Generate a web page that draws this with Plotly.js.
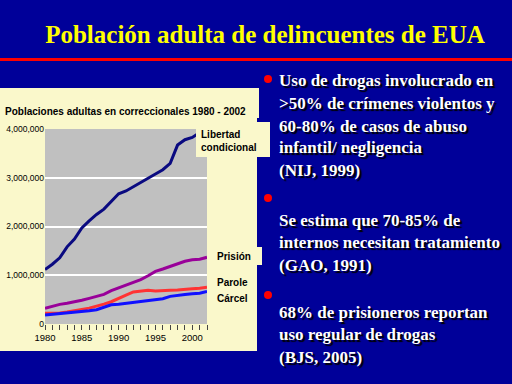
<!DOCTYPE html>
<html><head><meta charset="utf-8">
<script src="https://cdn.plot.ly/plotly-3.0.1.min.js"></script>
<style>html,body{margin:0;padding:0;background:#000099;}</style>
</head><body>
<div id="chart" style="width:512px;height:384px;"></div>
<script>
const years = [1980,1981,1982,1983,1984,1985,1986,1987,1988,1989,1990,1991,1992,1993,1994,1995,1996,1997,1998,1999,2000,2001,2002];
const libertadCondicional = [1118097,1225934,1357264,1582947,1740948,1968712,2114621,2247158,2356483,2522125,2670234,2728472,2811611,2903061,2981022,3077861,3164996,3296513,3670441,3779922,3826209,3931731,4024067];
const prision = [319598,360029,402914,423898,448264,487593,526436,562814,607766,683367,743382,792535,850566,909381,990147,1078542,1127528,1176564,1224469,1287172,1316333,1330007,1367547];
const parole = [220438,225539,224604,246440,266992,300203,325638,362192,407977,456803,531407,590442,658601,676100,690371,679421,679733,694787,696385,714457,723898,732333,753141];
const carcel = [182288,195085,207853,221815,233018,254986,272736,294092,341893,393303,403019,424129,441781,455500,479800,507044,518492,567079,592462,605943,621149,631240,665475];
const seriesNames = ['Libertad condicional','Prisión','Parole','Cárcel'];
const yTicks = [0,1000000,2000000,3000000,4000000];
const xTickLabels = years.map(y => (y % 5 === 0 ? String(y) : ''));

const L = 45, R = 207, T = 129, B = 324;
const px = x => (x - L) / (R - L);
const py = y => (B - y) / (B - T);

const cream = '#faf8cb';
const sans = 'Liberation Sans, Arial, sans-serif';
const serif = 'Liberation Serif, Times New Roman, serif';

const traces = [
  {x: years, y: libertadCondicional, name: seriesNames[0], line: {color: '#0a0a80', width: 3}},
  {x: years, y: prision, name: seriesNames[1], line: {color: '#990099', width: 3}},
  {x: years, y: parole, name: seriesNames[2], line: {color: '#ff3333', width: 3}},
  {x: years, y: carcel, name: seriesNames[3], line: {color: '#1010ff', width: 3}}
].map(t => Object.assign({type: 'scatter', mode: 'lines', hoverinfo: 'skip'}, t));

function rect(x0, y0, x1, y1, color, layer) {
  return {type: 'rect', xref: 'paper', yref: 'paper', x0: px(x0), x1: px(x1), y0: py(y1), y1: py(y0),
          fillcolor: color, line: {width: 0}, layer: layer || 'below'};
}
function dot(cx, cy) {
  return {type: 'circle', xref: 'paper', yref: 'paper', x0: px(cx - 4), x1: px(cx + 4), y0: py(cy + 4), y1: py(cy - 4),
          fillcolor: '#ff0000', line: {width: 0}, layer: 'above'};
}

const shapes = [
  rect(0, 88, 257, 351, cream),
  rect(0, 88, 259, 118, cream),
  rect(230, 247, 262, 265, cream),
  rect(L, T, R, B, '#c0c0c0'),
  rect(196, 122, 270, 157, cream, 'above'),
  {type: 'line', xref: 'paper', yref: 'paper', x0: px(0), x1: px(512), y0: py(59.5), y1: py(59.5),
   line: {color: '#ff0000', width: 3}, layer: 'above'},
  dot(268, 79), dot(268, 198), dot(268, 295)
];

function label(text, x, y, size, opts) {
  return Object.assign({text: text, xref: 'paper', yref: 'paper', x: px(x), y: py(y), xanchor: 'left', yanchor: 'middle',
    showarrow: false, font: {family: sans, size: size, color: '#000000'}}, opts || {});
}
const bulletFont = {family: serif, size: 17, color: '#ffffff', shadow: '2px 2px 1px #000000'};
const bulletLines = [
  ['Uso de drogas involucrado en', 80],
  ['>50% de crímenes violentos y', 103],
  ['60-80% de casos de abuso', 126],
  ['infantil/ negligencia', 147],
  ['(NIJ, 1999)', 170],
  ['Se estima que 70-85% de', 220],
  ['internos necesitan tratamiento', 242],
  ['(GAO, 1991)', 265],
  ['68% de prisioneros reportan', 312],
  ['uso regular de drogas', 334],
  ['(BJS, 2005)', 357]
];
const annotations = [
  label('<b>Poblaciones adultas en correccionales 1980 - 2002</b>', 3, 111, 10),
  label('<b>Libertad</b>', 199, 134, 10),
  label('<b>condicional</b>', 199, 147, 10),
  label('<b>Prisión</b>', 215, 256, 10),
  label('<b>Parole</b>', 215, 282, 10),
  label('<b>Cárcel</b>', 215, 298, 10)
].concat(bulletLines.map(l => label('<b>' + l[0].replace(/>/g, '&gt;') + '</b>', 277, l[1], 17, {font: bulletFont})));

const layout = {
  width: 512, height: 384,
  margin: {l: L, r: 512 - R, t: T, b: 384 - B, pad: 0},
  paper_bgcolor: '#000099',
  plot_bgcolor: 'rgba(0,0,0,0)',
  showlegend: false,
  title: {text: '<b>Población adulta de delincuentes de EUA</b>', x: 265 / 512, xanchor: 'center', y: 1 - 34 / 384, yanchor: 'middle',
          font: {family: serif, size: 25, color: '#ffff00'}},
  xaxis: {range: [1980, 2002], tickvals: years, ticktext: xTickLabels, ticks: 'outside', ticklen: 5, tickwidth: 1, tickcolor: '#444444',
          showgrid: false, zeroline: false, showline: false, tickangle: 0,
          tickfont: {family: sans, size: 9.5, color: '#000000'}},
  yaxis: {range: [0, 4000000], tickvals: yTicks, tickformat: ',', ticks: '', showgrid: true, gridcolor: '#ffffff', gridwidth: 2,
          zeroline: false, showline: false, tickfont: {family: sans, size: 8.5, color: '#000000'}},
  shapes: shapes,
  annotations: annotations
};
Plotly.newPlot('chart', traces, layout, {staticPlot: true, displayModeBar: false});
</script>
</body></html>
